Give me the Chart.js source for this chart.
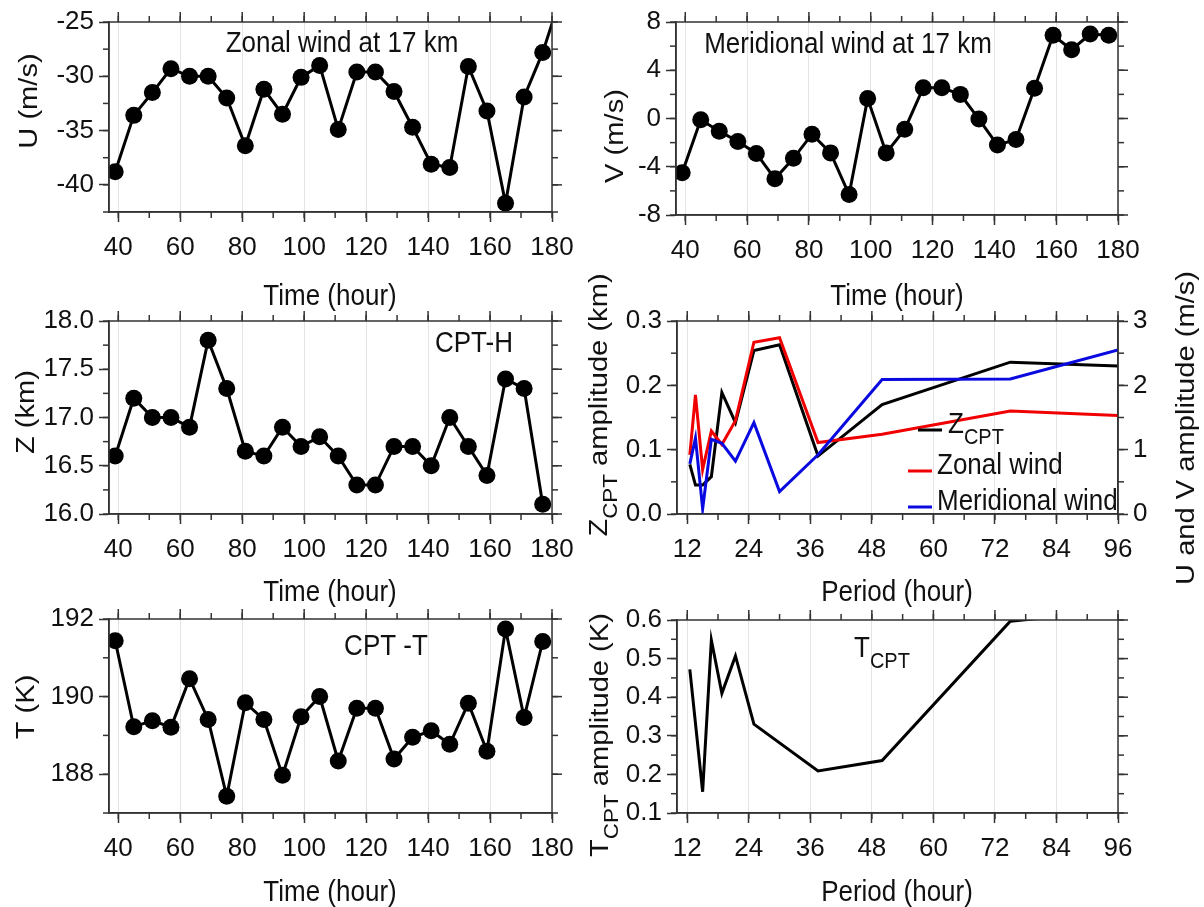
<!DOCTYPE html>
<html>
<head>
<meta charset="utf-8">
<script src="https://cdn.jsdelivr.net/npm/chart.js@4.4.0/dist/chart.umd.min.js"></script>
<style>
  html, body { margin: 0; padding: 0; background: #fff; }
  #wrap { position: relative; width: 1204px; height: 907px; }
  #wrap canvas { position: absolute; left: 0; top: 0; }
</style>
</head>
<body>
<div id="wrap">
  <canvas id="zonal" width="1204" height="907"></canvas>
  <canvas id="merid" width="1204" height="907"></canvas>
  <canvas id="height" width="1204" height="907"></canvas>
  <canvas id="ampl" width="1204" height="907"></canvas>
  <canvas id="temp" width="1204" height="907"></canvas>
  <canvas id="tampl" width="1204" height="907"></canvas>
</div>
<script>
// time series, one value every 6 hours
var timeHours = [39, 45, 51, 57, 63, 69, 75, 81, 87, 93, 99, 105, 111, 117, 123, 129, 135, 141, 147, 153, 159, 165, 171, 177, 183];
var zonalWind = [-38.8, -33.6, -31.5, -29.3, -30.0, -30.0, -32.0, -36.4, -31.2, -33.5, -30.1, -29.0, -34.9, -29.6, -29.6, -31.4, -34.7, -38.1, -38.4, -29.1, -33.2, -41.7, -31.9, -27.8, -22.5];
var meridWind = [-4.5, -0.1, -1.05, -1.9, -2.9, -5.0, -3.3, -1.3, -2.85, -6.3, 1.65, -2.85, -0.9, 2.55, 2.55, 2.0, -0.05, -2.2, -1.75, 2.5, 6.9, 5.7, 7.0, 6.9];
var cptHeight = [16.6, 17.2, 17.0, 17.0, 16.9, 17.8, 17.3, 16.65, 16.6, 16.9, 16.7, 16.8, 16.6, 16.3, 16.3, 16.7, 16.7, 16.5, 17.0, 16.7, 16.4, 17.4, 17.3, 16.1];
var cptTemp = [191.44, 189.22, 189.38, 189.21, 190.46, 189.41, 187.43, 189.84, 189.41, 187.97, 189.48, 190.0, 188.34, 189.7, 189.7, 188.39, 188.95, 189.12, 188.77, 189.83, 188.59, 191.74, 189.46, 191.42];

// amplitude spectra
var periods = [12.5, 13.6, 15, 16.7, 18.75, 21.4, 25, 30, 37.5, 50, 75, 96];
var zAmp = [0.077, 0.045, 0.045, 0.058, 0.189, 0.142, 0.254, 0.263, 0.090, 0.170, 0.236, 0.230];
var uAmp = [0.92, 1.85, 0.69, 1.29, 1.08, 1.45, 2.67, 2.74, 1.11, 1.24, 1.60, 1.53];
var vAmp = [0.78, 1.18, 0.08, 1.16, 1.10, 0.82, 1.42, 0.35, 0.92, 2.09, 2.10, 2.55];
var tPeriods = [12.5, 15, 16.7, 18.75, 21.4, 25, 37.5, 50, 75, 96];
var tAmp = [0.472, 0.155, 0.548, 0.410, 0.507, 0.330, 0.209, 0.236, 0.597, 0.624];

// tick labels
var timeTicks = [40, 60, 80, 100, 120, 140, 160, 180];
var uTicks = [-40, -35, -30, -25];
var vTicks = [-8, -4, 0, 4, 8];
var zTicks = [16.0, 16.5, 17.0, 17.5, 18.0];
var tTicks = [188, 190, 192];
var periodTicks = [12, 24, 36, 48, 60, 72, 84, 96];
var zAmpTicks = [0.0, 0.1, 0.2, 0.3];
var windAmpTicks = [0, 1, 2, 3];
var tAmpTicks = [0.1, 0.2, 0.3, 0.4, 0.5, 0.6];

var FAMILY = "'Liberation Sans', Arial, sans-serif";
var INK = '#333';
var AXW = 80, AXH = 50;
var STRETCH = 1.12; // the original lettering is a little taller than wide

function font(size) { return size + 'px ' + FAMILY; }

function pairs(xs, ys) {
  return ys.map(function(v, i) { return {x: xs[i], y: v}; });
}

function fixedTicks(vals) {
  return function(scale) {
    scale.ticks = vals.map(function(v) { return {value: v}; });
  };
}

function xAxis(min, max, vals) {
  return {
    type: 'linear', position: 'bottom', min: min, max: max,
    afterBuildTicks: fixedTicks(vals),
    afterFit: function(s) { s.height = AXH; },
    ticks: { font: {family: FAMILY, size: 26}, color: '#111', padding: 10, maxRotation: 0, autoSkip: false },
    grid: { color: '#e4e4e4', lineWidth: 1, tickLength: 10, tickColor: INK, tickWidth: 1.5 },
    border: { display: true, color: INK, width: 1.5 }
  };
}

function yAxis(pos, min, max, vals, digits) {
  return {
    type: 'linear', position: pos, min: min, max: max,
    afterBuildTicks: fixedTicks(vals),
    afterFit: function(s) { s.width = AXW; },
    ticks: {
      font: {family: FAMILY, size: 26}, color: '#111', padding: 5,
      callback: function(v) { return Number(v).toFixed(digits); }
    },
    grid: { drawOnChartArea: false, tickLength: 10, tickColor: INK, tickWidth: 1.5 },
    border: { display: true, color: INK, width: 1.5 }
  };
}

function padFor(area, rightAxis) {
  return {
    left: area[0] - AXW,
    top: area[1],
    right: 1204 - area[2] - (rightAxis ? AXW : 0),
    bottom: 907 - area[3] - AXH
  };
}

function steps(min, max, step) {
  var out = [];
  for (var v = Math.ceil(min / step - 1e-6) * step; v <= max + 1e-6; v += step) out.push(v);
  return out;
}

// box, mirrored major ticks on top/right, minor ticks all round
var framePlugin = {
  id: 'frame',
  afterDraw: function(chart, args, opts) {
    var ctx = chart.ctx, a = chart.chartArea, x = chart.scales.x, y = chart.scales.y;
    ctx.save();
    ctx.strokeStyle = INK;
    ctx.lineWidth = 1.5;
    ctx.strokeRect(a.left, a.top, a.right - a.left, a.bottom - a.top);
    function mark(x1, y1, x2, y2) { ctx.beginPath(); ctx.moveTo(x1, y1); ctx.lineTo(x2, y2); ctx.stroke(); }
    x.ticks.forEach(function(t) {
      var p = x.getPixelForValue(t.value);
      mark(p, a.top, p, a.top - 10);
    });
    if (!chart.scales.y2) {
      y.ticks.forEach(function(t) {
        var p = y.getPixelForValue(t.value);
        mark(a.right, p, a.right + 10, p);
      });
    }
    steps(x.min, x.max, opts.xMinor).forEach(function(v) {
      var p = x.getPixelForValue(v);
      mark(p, a.top, p, a.top - 6);
      mark(p, a.bottom, p, a.bottom + 6);
    });
    steps(y.min, y.max, opts.yMinor).forEach(function(v) {
      var p = y.getPixelForValue(v);
      mark(a.left, p, a.left - 6, p);
      mark(a.right, p, a.right + 6, p);
    });
    ctx.restore();
  }
};

// titles and labels, some with subscripts
function drawRich(ctx, item) {
  var size = item.size || 26, sub = Math.round(size * 0.77);
  var parts = item.parts || [{t: item.t}];
  ctx.save();
  ctx.translate(item.x, item.y);
  ctx.scale(1, STRETCH);
  if (item.rot) ctx.rotate(-Math.PI / 2);
  ctx.fillStyle = '#111';
  ctx.textBaseline = 'alphabetic';
  ctx.textAlign = 'left';
  var w = 0;
  parts.forEach(function(p) { ctx.font = font(p.sub ? sub : size); w += ctx.measureText(p.t).width; });
  var cx = item.align === 'left' ? 0 : -w / 2;
  var base = size * 0.36;
  parts.forEach(function(p) {
    ctx.font = font(p.sub ? sub : size);
    ctx.fillText(p.t, cx, p.sub ? base + size * 0.36 : base);
    cx += ctx.measureText(p.t).width;
  });
  ctx.restore();
}

var textPlugin = {
  id: 'texts',
  afterDraw: function(chart, args, opts) {
    var ctx = chart.ctx;
    (opts.lines || []).forEach(function(l) {
      ctx.save();
      ctx.strokeStyle = l.color;
      ctx.lineWidth = 3;
      ctx.beginPath(); ctx.moveTo(l.x1, l.y); ctx.lineTo(l.x2, l.y); ctx.stroke();
      ctx.restore();
    });
    (opts.items || []).forEach(function(it) { drawRich(ctx, it); });
  }
};

function dotRadius(c) {
  var xs = c.chart.scales.x;
  return c.raw && c.raw.x > xs.max ? 0 : 8.5;
}

function timePanel(id, area, values, yMin, yMax, yVals, digits, yMinor, items) {
  return new Chart(document.getElementById(id), {
    type: 'line',
    data: {
      datasets: [{
        data: pairs(timeHours, values),
        borderColor: '#000', borderWidth: 3, tension: 0,
        pointRadius: dotRadius, pointBackgroundColor: '#000', pointBorderWidth: 0
      }]
    },
    options: {
      responsive: false, animation: false, devicePixelRatio: 1,
      layout: { padding: padFor(area, false) },
      scales: { x: xAxis(37, 180, timeTicks), y: yAxis('left', yMin, yMax, yVals, digits) },
      plugins: {
        legend: { display: false }, tooltip: { enabled: false },
        frame: { xMinor: 10, yMinor: yMinor },
        texts: { items: items }
      }
    },
    plugins: [framePlugin, textPlugin]
  });
}

timePanel('zonal', [109, 22, 552, 212], zonalWind, -42.5, -25, uTicks, 0, 2.5, [
  {t: 'Zonal wind at 17 km', x: 342, y: 42},
  {t: 'Time (hour)', x: 330, y: 295},
  {t: 'U (m/s)', x: 28, y: 101, rot: true}
]);

timePanel('merid', [676, 22, 1118, 215], meridWind, -8, 8, vTicks, 0, 2, [
  {t: 'Meridional wind at 17 km', x: 848, y: 43},
  {t: 'Time (hour)', x: 897, y: 295},
  {t: 'V (m/s)', x: 614, y: 136, rot: true}
]);

timePanel('height', [109, 321, 552, 514], cptHeight, 16, 18, zTicks, 1, 0.25, [
  {t: 'CPT-H', x: 474, y: 342},
  {t: 'Time (hour)', x: 330, y: 591},
  {t: 'Z (km)', x: 25, y: 412, rot: true}
]);

timePanel('temp', [109, 619, 552, 813], cptTemp, 187, 192, tTicks, 0, 1, [
  {t: 'CPT -T', x: 386, y: 645},
  {t: 'Time (hour)', x: 330, y: 891},
  {t: 'T (K)', x: 25, y: 707, rot: true}
]);

function ampLine(xs, ys, color, axis) {
  return { data: pairs(xs, ys), borderColor: color, borderWidth: 3, tension: 0, pointRadius: 0, yAxisID: axis };
}

var amplArea = [677, 321, 1118, 514];
new Chart(document.getElementById('ampl'), {
  type: 'line',
  data: {
    datasets: [
      ampLine(periods, vAmp, '#0a0ae0', 'y2'),
      ampLine(periods, uAmp, '#f00000', 'y2'),
      ampLine(periods, zAmp, '#000', 'y')
    ]
  },
  options: {
    responsive: false, animation: false, devicePixelRatio: 1,
    layout: { padding: padFor(amplArea, true) },
    scales: {
      x: xAxis(10, 96, periodTicks),
      y: yAxis('left', 0, 0.3, zAmpTicks, 1),
      y2: yAxis('right', 0, 3, windAmpTicks, 0)
    },
    plugins: {
      legend: { display: false }, tooltip: { enabled: false },
      frame: { xMinor: 6, yMinor: 0.05 },
      texts: {
        lines: [
          {x1: 918, x2: 942, y: 430, color: '#000'},
          {x1: 908, x2: 932, y: 471, color: '#f00000'},
          {x1: 908, x2: 932, y: 507, color: '#0a0ae0'}
        ],
        items: [
          {parts: [{t: 'Z'}, {t: 'CPT', sub: true}], x: 948, y: 423, align: 'left'},
          {t: 'Zonal wind', x: 937, y: 464, align: 'left'},
          {t: 'Meridional wind', x: 937, y: 500, align: 'left'},
          {parts: [{t: 'Z'}, {t: 'CPT', sub: true}, {t: ' amplitude (km)'}], x: 598, y: 405, rot: true},
          {t: 'U and V amplitude (m/s)', x: 1185, y: 428, rot: true},
          {t: 'Period (hour)', x: 897, y: 591}
        ]
      }
    }
  },
  plugins: [framePlugin, textPlugin]
});

var tamplArea = [677, 620, 1118, 813];
new Chart(document.getElementById('tampl'), {
  type: 'line',
  data: { datasets: [ampLine(tPeriods, tAmp, '#000', 'y')] },
  options: {
    responsive: false, animation: false, devicePixelRatio: 1,
    layout: { padding: padFor(tamplArea, false) },
    scales: { x: xAxis(10, 96, periodTicks), y: yAxis('left', 0.1, 0.6, tAmpTicks, 1) },
    plugins: {
      legend: { display: false }, tooltip: { enabled: false },
      frame: { xMinor: 6, yMinor: 0.05 },
      texts: {
        items: [
          {parts: [{t: 'T'}, {t: 'CPT', sub: true}], x: 854, y: 647, align: 'left'},
          {t: 'Period (hour)', x: 897, y: 891},
          {parts: [{t: 'T'}, {t: 'CPT', sub: true}, {t: ' amplitude (K)'}], x: 599, y: 735, rot: true}
        ]
      }
    }
  },
  plugins: [framePlugin, textPlugin]
});
</script>
</body>
</html>
